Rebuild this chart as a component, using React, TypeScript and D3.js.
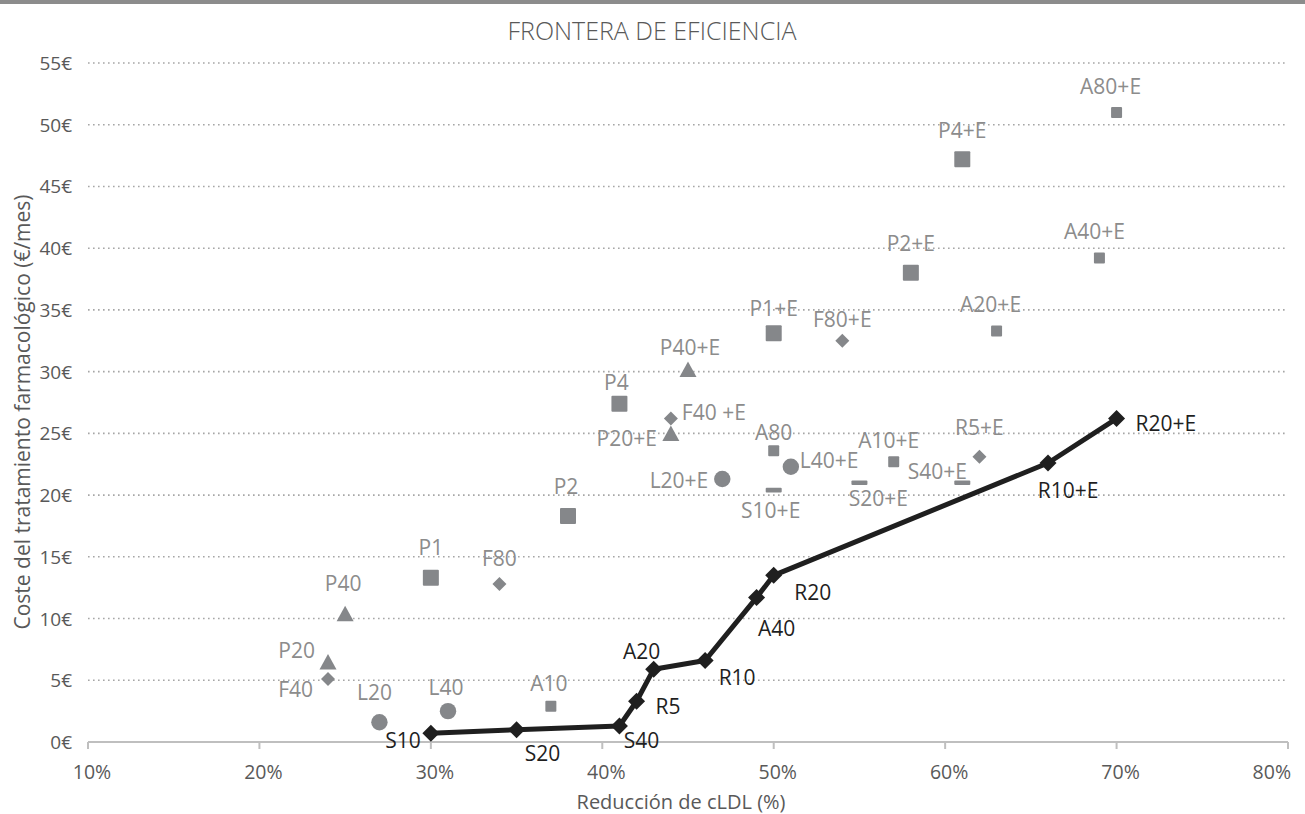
import React from "react";
import * as d3 from "d3";

// ---------- DATA ----------
const xTicks = [10, 20, 30, 40, 50, 60, 70, 80];
const yTicks = [0, 5, 10, 15, 20, 25, 30, 35, 40, 45, 50, 55];

// Efficiency frontier (black line)
const frontierNames = ["S10", "S20", "S40", "R5", "A20", "R10", "A40", "R20", "R10+E", "R20+E"];
const frontierReduction = [30, 35, 41, 42, 43, 46, 49, 50, 66, 70];
const frontierCost = [0.7, 1.0, 1.3, 3.3, 5.9, 6.6, 11.7, 13.5, 22.6, 26.2];

// Other treatments (grey markers)
const pointNames = [
  "P20", "F40", "P40", "P1", "F80", "L20", "L40", "A10", "P2", "P4",
  "P20+E", "F40 +E", "P40+E", "L20+E", "A80", "L40+E", "S10+E", "P1+E", "F80+E", "S20+E",
  "A10+E", "S40+E", "R5+E", "P2+E", "A20+E", "P4+E", "A40+E", "A80+E",
];
const pointReduction = [
  24, 24, 25, 30, 34, 27, 31, 37, 38, 41,
  44, 44, 45, 47, 50, 51, 50, 50, 54, 55,
  57, 61, 62, 58, 63, 61, 69, 70,
];
const pointCost = [
  6.4, 5.1, 10.3, 13.3, 12.8, 1.6, 2.5, 2.9, 18.3, 27.4,
  24.9, 26.2, 30.1, 21.3, 23.6, 22.3, 20.4, 33.1, 32.5, 21.0,
  22.7, 21.0, 23.1, 38.0, 33.3, 47.2, 39.2, 51.0,
];
const pointShape = [
  "triangle", "diamond", "triangle", "square", "diamond", "circle", "circle", "smallSquare", "square", "square",
  "triangle", "diamond", "triangle", "circle", "smallSquare", "circle", "dash", "square", "diamond", "dash",
  "smallSquare", "dash", "diamond", "square", "smallSquare", "square", "smallSquare", "smallSquare",
];

// ---------- LABEL LAYOUT (offsets from marker) ----------
type LP = { dx: number; dy: number; a: "start" | "middle" | "end" };
const pointLabelPos: Record<string, LP> = {
  "P20": { dx: -13, dy: -13, a: "end" },
  "F40": { dx: -15, dy: 10, a: "end" },
  "P40": { dx: -2, dy: -32, a: "middle" },
  "P1": { dx: 0, dy: -31, a: "middle" },
  "F80": { dx: 0, dy: -26, a: "middle" },
  "L20": { dx: -5, dy: -30, a: "middle" },
  "L40": { dx: -2, dy: -24, a: "middle" },
  "A10": { dx: -2, dy: -23, a: "middle" },
  "P2": { dx: -2, dy: -30, a: "middle" },
  "P4": { dx: -3, dy: -22, a: "middle" },
  "P20+E": { dx: -14, dy: 3, a: "end" },
  "F40 +E": { dx: 11, dy: -7, a: "start" },
  "P40+E": { dx: 2, dy: -23, a: "middle" },
  "L20+E": { dx: -14, dy: 1, a: "end" },
  "A80": { dx: 0, dy: -19, a: "middle" },
  "L40+E": { dx: 9, dy: -7, a: "start" },
  "S10+E": { dx: -3, dy: 20, a: "middle" },
  "P1+E": { dx: 0, dy: -25, a: "middle" },
  "F80+E": { dx: 0, dy: -22, a: "middle" },
  "S20+E": { dx: 19, dy: 15, a: "middle" },
  "A10+E": { dx: -5, dy: -22, a: "middle" },
  "S40+E": { dx: -25, dy: -12, a: "middle" },
  "R5+E": { dx: 0, dy: -30, a: "middle" },
  "P2+E": { dx: 0, dy: -30, a: "middle" },
  "A20+E": { dx: -6, dy: -27, a: "middle" },
  "P4+E": { dx: 0, dy: -29, a: "middle" },
  "A40+E": { dx: -5, dy: -27, a: "middle" },
  "A80+E": { dx: -6, dy: -26, a: "middle" },
};
const frontierLabelPos: Record<string, LP> = {
  "S10": { dx: -10, dy: 7, a: "end" },
  "S20": { dx: 26, dy: 23, a: "middle" },
  "S40": { dx: 22, dy: 14, a: "middle" },
  "R5": { dx: 19, dy: 5, a: "start" },
  "A20": { dx: -12, dy: -18, a: "middle" },
  "R10": { dx: 32, dy: 16, a: "middle" },
  "A40": { dx: 20, dy: 30, a: "middle" },
  "R20": { dx: 39, dy: 17, a: "middle" },
  "R10+E": { dx: 20, dy: 27, a: "middle" },
  "R20+E": { dx: 19, dy: 4, a: "start" },
};

// ---------- STYLE ----------
const W = 1305;
const H = 814;
const margin = { left: 88, right: 1288, top: 63, bottom: 742 };
const FONT = "'Open Sans', 'Noto Sans', sans-serif";
const GREY_MARK = "#85878a";
const GREY_TEXT = "#8c8c8c";
const BLACK = "#1f1f1f";
const TICK_TEXT = "#595959";

function Marker({ shape, x, y }: { shape: string; x: number; y: number }) {
  switch (shape) {
    case "square":
      return <rect x={x - 8} y={y - 8} width={16} height={16} rx={1} fill={GREY_MARK} />;
    case "smallSquare":
      return <rect x={x - 5.5} y={y - 5.5} width={11} height={11} rx={1} fill={GREY_MARK} />;
    case "triangle":
      return <path d={`M${x},${y - 9}L${x + 8.5},${y + 6.5}L${x - 8.5},${y + 6.5}Z`} fill={GREY_MARK} />;
    case "diamond":
      return <path d={`M${x},${y - 7}L${x + 7},${y}L${x},${y + 7}L${x - 7},${y}Z`} fill={GREY_MARK} />;
    case "circle":
      return <circle cx={x} cy={y} r={8.2} fill={GREY_MARK} />;
    case "dash":
      return <rect x={x - 8} y={y - 2.3} width={16} height={4.6} rx={1} fill={GREY_MARK} />;
    default:
      return null;
  }
}

export default function App() {
  const x = d3.scaleLinear().domain([10, 80]).range([margin.left, margin.right]);
  const y = d3.scaleLinear().domain([0, 55]).range([margin.bottom, margin.top]);

  const frontier = frontierNames.map((n, i) => ({ n, x: x(frontierReduction[i]), y: y(frontierCost[i]) }));
  const points = pointNames.map((n, i) => ({ n, s: pointShape[i], x: x(pointReduction[i]), y: y(pointCost[i]) }));
  const line = d3
    .line<{ x: number; y: number }>()
    .x((d) => d.x)
    .y((d) => d.y);

  const lastTick = xTicks[xTicks.length - 1];

  return (
    <svg
      width={W}
      height={H}
      style={{ position: "absolute", left: 0, top: 0, background: "#fff" }}
      fontFamily={FONT}
    >
      <rect x={0} y={0} width={W} height={H} fill="#fff" />
      <rect x={0} y={0} width={W} height={4} fill="#8c8c8c" />
      <text x={652} y={30} textAnchor="middle" dominantBaseline="central" fontSize={25} fontWeight={300} fill="#595959">
        FRONTERA DE EFICIENCIA
      </text>

      {/* gridlines */}
      {yTicks.filter((t) => t > 0).map((t) => (
        <line
          key={"g" + t}
          x1={margin.left}
          x2={margin.right}
          y1={y(t)}
          y2={y(t)}
          stroke="#a6a6a6"
          strokeWidth={1.6}
          strokeDasharray="1.6,3.4"
        />
      ))}

      {/* x axis */}
      <line x1={margin.left} x2={margin.right} y1={y(0)} y2={y(0)} stroke="#bfbfbf" strokeWidth={2} />
      {xTicks.map((t) => (
        <g key={"x" + t}>
          <line x1={x(t)} x2={x(t)} y1={y(0)} y2={y(0) + 7} stroke="#bfbfbf" strokeWidth={2} />
          <text
            x={t === lastTick ? x(t) + 3 : x(t) + 4}
            y={771}
            textAnchor={t === lastTick ? "end" : "middle"}
            dominantBaseline="central"
            fontSize={19.5}
            fill={TICK_TEXT}
          >
            {t}%
          </text>
        </g>
      ))}
      {yTicks.map((t) => (
        <text key={"y" + t} x={72} y={y(t)} textAnchor="end" dominantBaseline="central" fontSize={19} fill={TICK_TEXT}>
          {t}€
        </text>
      ))}

      <text x={681} y={809} textAnchor="middle" fontSize={20} fill={TICK_TEXT}>
        Reducción de cLDL (%)
      </text>
      <text
        transform={`translate(22,412) rotate(-90)`}
        textAnchor="middle"
        dominantBaseline="central"
        fontSize={21}
        fill={TICK_TEXT}
      >
        Coste del tratamiento farmacológico (€/mes)
      </text>

      {/* grey points */}
      {points.map((p) => (
        <Marker key={"m" + p.n} shape={p.s} x={p.x} y={p.y} />
      ))}
      {points.map((p) => {
        const lp = pointLabelPos[p.n];
        return (
          <text
            key={"l" + p.n}
            x={p.x + lp.dx}
            y={p.y + lp.dy}
            textAnchor={lp.a}
            dominantBaseline="central"
            fontSize={21}
            fill={GREY_TEXT}
            style={{ whiteSpace: "pre" }}
          >
            {p.n}
          </text>
        );
      })}

      {/* frontier */}
      <path d={line(frontier) || ""} fill="none" stroke={BLACK} strokeWidth={5} strokeLinejoin="round" />
      {frontier.map((p) => (
        <path
          key={"f" + p.n}
          d={`M${p.x},${p.y - 8.5}L${p.x + 8.5},${p.y}L${p.x},${p.y + 8.5}L${p.x - 8.5},${p.y}Z`}
          fill={BLACK}
        />
      ))}
      {frontier.map((p) => {
        const lp = frontierLabelPos[p.n];
        return (
          <text
            key={"fl" + p.n}
            x={p.x + lp.dx}
            y={p.y + lp.dy}
            textAnchor={lp.a}
            dominantBaseline="central"
            fontSize={21}
            fill={BLACK}
          >
            {p.n}
          </text>
        );
      })}
    </svg>
  );
}
